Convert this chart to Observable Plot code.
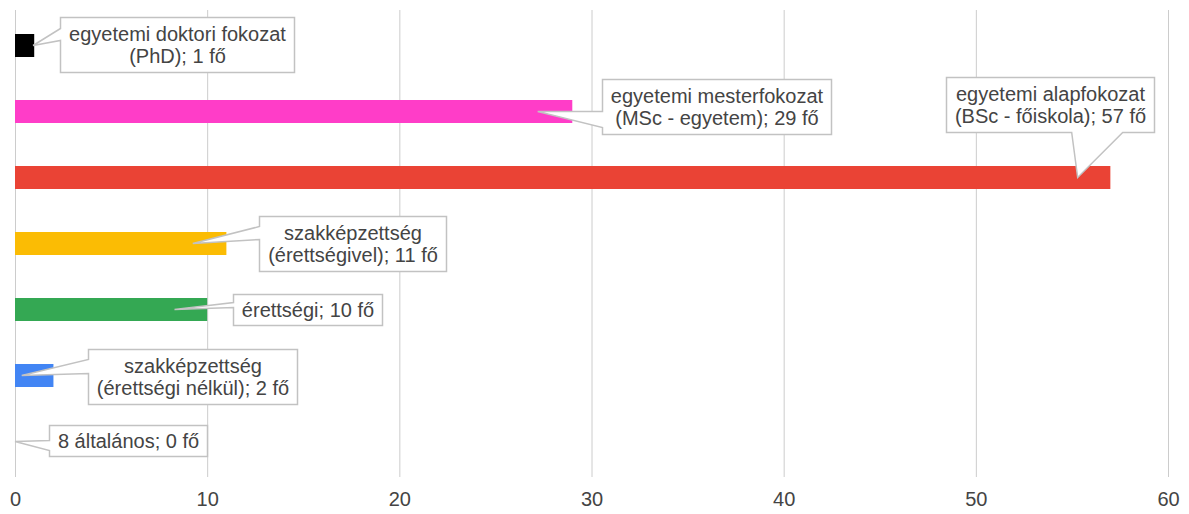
<!DOCTYPE html>
<html><head><meta charset="utf-8">
<script src="https://cdn.jsdelivr.net/npm/d3@7"></script>
<script src="https://cdn.jsdelivr.net/npm/@observablehq/plot@0.6"></script>
<style>
body{margin:0;background:#fff;}
#chart svg{display:block;}
</style>
</head><body><div id="chart"></div>
<script>
// ---- data ----
const categories = [
  "egyetemi doktori fokozat (PhD)",
  "egyetemi mesterfokozat (MSc - egyetem)",
  "egyetemi alapfokozat (BSc - főiskola)",
  "szakképzettség (érettségivel)",
  "érettségi",
  "szakképzettség (érettségi nélkül)",
  "8 általános"
];
const values = [1, 29, 57, 11, 10, 2, 0];
const colors = ["#000000", "#ff3dc8", "#ea4335", "#fbbc04", "#34a853", "#4285f4", "#9e9e9e"];
const unit = "fő";
const xTicks = [0, 10, 20, 30, 40, 50, 60];

// ---- callout layout (annotation placement) ----
const calloutBoxX  = [2.34, 30.55, 48.45, 12.7, 11.34, 3.8, 1.77];   // box left edge, x data units
const calloutBoxDy = [-29, -33, -101, -28, -16, -27, -17];         // box top relative to band centre, px
const calloutTipX  = [0.94, 27.2, 55.3, 9.25, 8.3, 0.35, 0];        // pointer tip, x data units
const calloutSide  = ["left", "left", "bottom", "left", "left", "left", "left"];
const calloutBase  = [[11, 23], [32, 48], [-6, 45], [10, 23], [8, 13], [10, 24], [15, 25]];

const rows = categories.map((c, i) => ({category: c, value: values[i], color: colors[i]}));

const FONT = "'Liberation Sans', Arial, sans-serif";
const W = 1189, H = 514;
const plot = Plot.plot({
  width: W, height: H,
  marginLeft: 15, marginRight: 21, marginTop: 10, marginBottom: 37,
  style: {fontFamily: FONT, fontSize: "20px", color: "#444", background: "#fff"},
  x: {domain: [0, 60], axis: null},
  y: {domain: categories, paddingInner: 0.655, paddingOuter: 0.3275, axis: null},
  color: {type: "identity"},
  marks: [
    Plot.gridX(xTicks, {stroke: "#cccccc", strokeOpacity: 1, strokeWidth: 1}),
    Plot.axisX(xTicks, {tickSize: 0, tickPadding: 14, fontSize: 20, fill: "#444", label: null, tickFormat: d => String(d)}),
    Plot.barX(rows, {x: "value", y: "category", fill: "color"})
  ]
});
document.getElementById("chart").appendChild(plot);

// ---- callouts, positioned through Plot's scales ----
const sx = plot.scale("x"), sy = plot.scale("y");
const ctx = document.createElement("canvas").getContext("2d");
ctx.font = "20px " + FONT;
const g = d3.select(plot).append("g").attr("class", "callouts");
rows.forEach((d, i) => {
  const cy = sy.apply(d.category) + sy.bandwidth / 2;
  const k = d.category.indexOf(" (");
  const lines = k >= 0
    ? [d.category.slice(0, k), d.category.slice(k + 1) + "; " + d.value + " " + unit]
    : [d.category + "; " + d.value + " " + unit];
  const tw = Math.max(...lines.map(s => ctx.measureText(s).width));
  const w = Math.round(tw + 17);
  const h = lines.length === 2 ? 55 : 31;
  const left = Math.round(sx.apply(calloutBoxX[i])) + 0.5;
  const top = Math.round(cy + calloutBoxDy[i]) + 0.5;
  const right = left + w, bottom = top + h;
  const tipX = sx.apply(calloutTipX[i]), tipY = cy;
  const [a, b] = calloutBase[i];
  let p;
  if (calloutSide[i] === "left") {
    p = `M${left},${top}H${right}V${bottom}H${left}V${top + b}L${tipX},${tipY}L${left},${top + a}Z`;
  } else {
    p = `M${left},${top}H${right}V${bottom}H${tipX + b}L${tipX},${tipY}L${tipX + a},${bottom}H${left}Z`;
  }
  g.append("path").attr("d", p).attr("fill", "#fff").attr("stroke", "#c2c2c2").attr("stroke-width", 1.5).attr("stroke-linejoin", "miter");
  const cx = left + w / 2, my = top + h / 2;
  lines.forEach((s, j) => {
    g.append("text")
      .attr("x", cx).attr("y", my + (j - (lines.length - 1) / 2) * 21.5)
      .attr("text-anchor", "middle").attr("dominant-baseline", "central")
      .attr("fill", "#444").attr("font-size", 20)
      .attr("font-family", FONT)
      .text(s);
  });
});
</script>
</body></html>
